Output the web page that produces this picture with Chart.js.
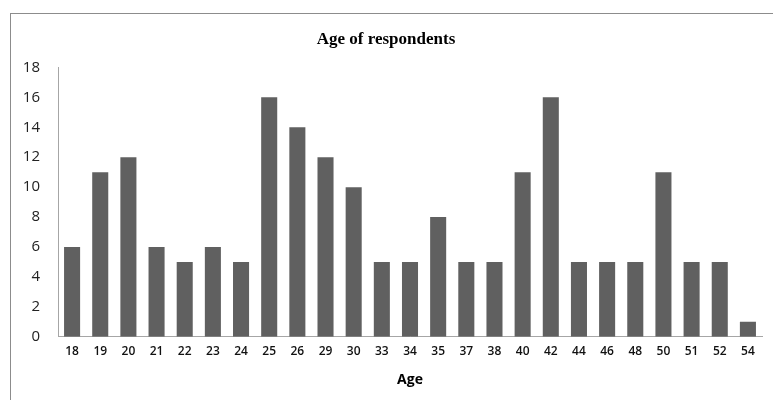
<!DOCTYPE html>
<html>
<head>
<meta charset="utf-8">
<script src="https://cdn.jsdelivr.net/npm/chart.js@4"></script>
<style>
    html, body { margin: 0; padding: 0; background: #fff; }
    #wrap { position: relative; width: 773px; height: 400px; overflow: hidden; }
    #frame {
        position: absolute; left: 10px; top: 13px; width: 800px; height: 420px;
        border-left: 1px solid #8c8c8c; border-top: 1px solid #8c8c8c;
    }
    canvas { position: absolute; left: 0; top: 0; }
</style>
</head>
<body>
<div id="wrap">
    <div id="frame"></div>
    <canvas id="myChart" width="773" height="400"></canvas>
</div>
<script>
const ages = ["18", "19", "20", "21", "22", "23", "24", "25", "26", "29", "30", "33", "34",
              "35", "37", "38", "40", "42", "44", "46", "48", "50", "51", "52", "54"];
const counts = [6, 11, 12, 6, 5, 6, 5, 16, 14, 12, 10, 5, 5,
                8, 5, 5, 11, 16, 5, 5, 5, 11, 5, 5, 1];
const yMax = 18;
const yStep = 2;

var axisGrey = "#a6a6a6";

new Chart("myChart", {
    type: "bar",
    data: {
        labels: ages,
        datasets: [{
            data: counts,
            backgroundColor: "#606060",
            borderWidth: 0,
            categoryPercentage: 1,
            barPercentage: 0.57
        }]
    },
    options: {
        responsive: false,
        animation: false,
        layout: { padding: { left: 10, right: 11, top: 0, bottom: 12 } },
        plugins: {
            legend: { display: false },
            tooltip: { enabled: false },
            title: {
                display: true,
                text: "Age of respondents",
                color: "#000",
                font: { family: "Liberation Serif", size: 17, weight: "bold" },
                padding: { top: 29, bottom: 18 }
            }
        },
        scales: {
            x: {
                grid: { display: false, drawTicks: false },
                border: { display: true, color: axisGrey, width: 1 },
                ticks: {
                    color: "#111",
                    padding: 8,
                    maxRotation: 0,
                    autoSkip: false,
                    font: { family: "Open Sans", size: 12, weight: "600" }
                },
                title: {
                    display: true,
                    text: "Age",
                    color: "#000",
                    font: { family: "Open Sans", size: 14, weight: "bold" },
                    padding: { top: 4, bottom: 0 }
                }
            },
            y: {
                min: 0,
                max: yMax,
                grid: { display: false, drawTicks: false },
                border: { display: true, color: axisGrey, width: 1 },
                ticks: {
                    stepSize: yStep,
                    color: "#222",
                    padding: 18,
                    font: { family: "Open Sans", size: 15 }
                },
                afterFit: function (scale) { scale.width = 48; }
            }
        }
    }
});
</script>
</body>
</html>
